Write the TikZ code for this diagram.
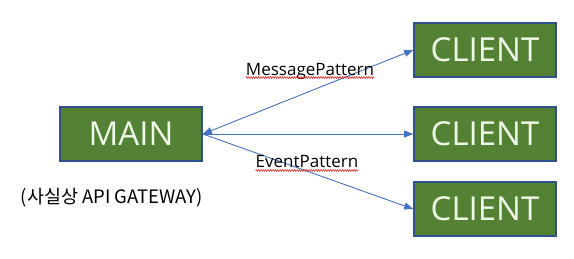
\documentclass[tikz,border=0pt]{standalone}
\usepackage{fontspec}
\setmainfont{Open Sans}
\newfontfamily\krfont{Noto Sans CJK KR}
\usetikzlibrary{arrows.meta,decorations.pathmorphing}
\definecolor{boxfill}{RGB}{84,130,53}
\definecolor{boxedge}{RGB}{47,82,143}
\definecolor{boxtext}{RGB}{240,248,232}
\definecolor{linkblue}{RGB}{68,114,196}
\definecolor{squiggle}{RGB}{230,40,40}
\begin{document}
\begin{tikzpicture}[x=1pt,y=-1pt,
  block/.style={draw=boxedge,line width=1.6pt,fill=boxfill,text=boxtext,
    minimum width=142pt,minimum height=54pt,inner sep=0pt,
    font=\fontsize{33}{33}\selectfont},
  link/.style={draw=linkblue,line width=0.9pt,-{Triangle[length=9pt,width=7pt]}},
  tag/.style={font=\fontsize{17}{17}\selectfont,inner sep=0pt},
  spell/.style={draw=squiggle,line width=0.6pt,decorate,
    decoration={zigzag,amplitude=0.9pt,segment length=2.4pt}}]
\useasboundingbox (0,0) rectangle (574,258);
\node[block] (main) at (131,134) {MAIN};
\node[block] (c1) at (485,50) {CLIENT};
\node[block] (c2) at (485,134) {CLIENT};
\node[block] (c3) at (485,209) {CLIENT};
\node[font=\krfont\fontsize{18.5}{18.5}\selectfont,inner sep=0pt] (cap) at (112,198) {(사실상 API GATEWAY)};
\draw[link,{Triangle[length=9pt,width=7pt]}-{Triangle[length=9pt,width=7pt]}] (main.east) -- (c1.west);
\draw[link] (main.east) -- (c2.west);
\draw[link] (main.east) -- (c3.west);
\node[tag] (mp) at (310,71) {MessagePattern};
\node[tag] (ep) at (307,162) {EventPattern};
% spell-check squiggles just below the baselines
\draw[spell] ([yshift=-2.5pt]mp.base west) -- ([yshift=-2.5pt]mp.base east);
\draw[spell] ([yshift=-2.5pt]ep.base west) -- ([yshift=-2.5pt]ep.base east);
\end{tikzpicture}
\end{document}
